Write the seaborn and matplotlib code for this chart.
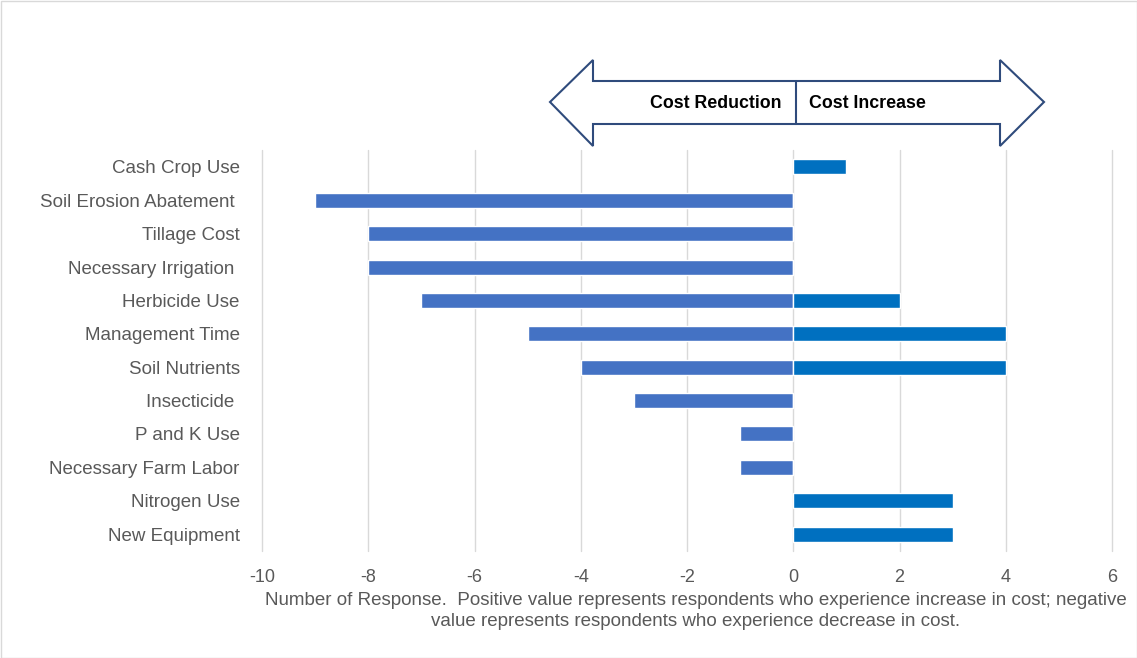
import matplotlib
matplotlib.use("Agg")
import matplotlib.pyplot as plt
import seaborn as sns
import pandas as pd
from matplotlib.patches import Polygon, Rectangle

categories = ["Cash Crop Use", "Soil Erosion Abatement ", "Tillage Cost", "Necessary Irrigation ",
              "Herbicide Use", "Management Time", "Soil Nutrients", "Insecticide ",
              "P and K Use", "Necessary Farm Labor", "Nitrogen Use", "New Equipment"]
decrease = [0, -9, -8, -8, -7, -5, -4, -3, -1, -1, 0, 0]
increase = [1, 0, 0, 0, 2, 4, 4, 0, 0, 0, 3, 3]
xticks = [-10, -8, -6, -4, -2, 0, 2, 4, 6]
xlabel_text = ("Number of Response.  Positive value represents respondents who experience increase in cost; negative\n"
               "value represents respondents who experience decrease in cost.")

sns.set_theme(style="white")
plt.rcParams['font.family'] = ['Liberation Sans', 'DejaVu Sans']

df = pd.DataFrame({"cat": categories, "dec": decrease, "inc": increase})

fig = plt.figure(figsize=(11.37, 6.58), dpi=100)
ax = fig.add_axes([262/1137, 1-550.7/658, 850/1137, 400.4/658])

sns.barplot(data=df, x="dec", y="cat", orient="h", color="#4472C4", saturation=1,
            width=0.45, ax=ax, order=categories, zorder=3)
sns.barplot(data=df, x="inc", y="cat", orient="h", color="#0070C0", saturation=1,
            width=0.45, ax=ax, order=categories, zorder=3)

ax.set_xlim(-10, 6)
ax.set_xticks(xticks)
ax.set_xticklabels([str(t) for t in xticks], color="#595959", fontsize=13)
ax.tick_params(axis="y", labelsize=13.5, labelcolor="#595959", length=0, pad=16)
ax.tick_params(axis="x", length=0, pad=13)
ax.set_ylabel("")
ax.set_xlabel("")
ax.grid(axis="x", color="#D9D9D9", linewidth=1, zorder=0)
for gl in ax.get_xgridlines():
    gl.set_clip_on(False)
ax.set_axisbelow(True)
for s in ax.spines.values():
    s.set_visible(False)

fig.text(696/1137, 1-611/658, xlabel_text, ha="center", va="center", fontsize=13.5,
         color="#595959", linespacing=1.3)

# Double arrow annotation in figure pixel coordinates
def P(x, y):
    return (x/1137, 1-y/658)

pts = [P(550, 102), P(593, 60), P(593, 81), P(1000, 81), P(1000, 60), P(1044, 102),
       P(1000, 146), P(1000, 124), P(593, 124), P(593, 146)]
fig.patches.append(Polygon(pts, closed=True, transform=fig.transFigure, facecolor="white",
                           edgecolor="#2F4B7C", linewidth=1.5, zorder=5))
fig.lines.append(plt.Line2D([796/1137, 796/1137], [1-81/658, 1-124/658], transform=fig.transFigure,
                            color="#2F4B7C", linewidth=1.5, zorder=6))
fig.text(781/1137, 1-102/658, "Cost Reduction", ha="right", va="center_baseline", fontsize=12.8,
         fontweight="bold", color="black", zorder=7)
fig.text(809/1137, 1-102/658, "Cost Increase", ha="left", va="center_baseline", fontsize=12.8,
         fontweight="bold", color="black", zorder=7)

fig.patches.append(Rectangle((0.5/1137, 0.5/658), 1-1/1137, 1-1/658, transform=fig.transFigure,
                             fill=False, edgecolor="#D9D9D9", linewidth=1))

fig.savefig("out.png", dpi=100)
